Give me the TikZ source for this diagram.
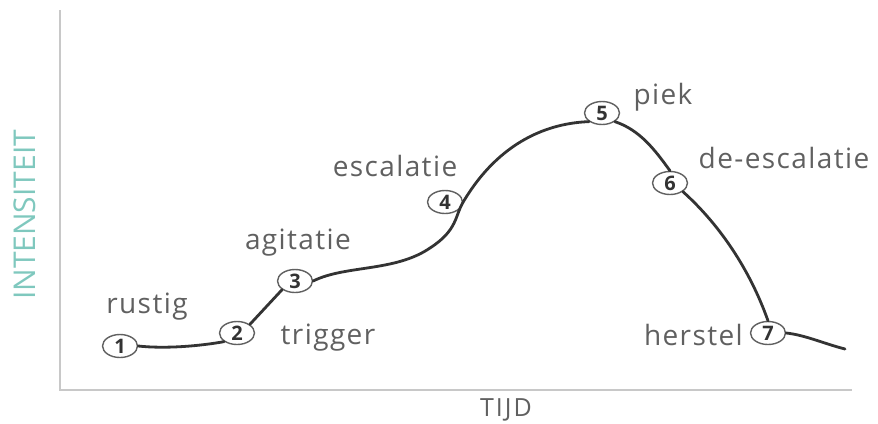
\documentclass[tikz,border=0pt]{standalone}
\usepackage{fontspec}
\setmainfont{Open Sans}
\usetikzlibrary{shapes.geometric}
\definecolor{curvegray}{HTML}{333333}
\definecolor{labelgray}{HTML}{606060}
\definecolor{axisgray}{HTML}{C8C8C8}
\definecolor{tealtext}{HTML}{7FC8BE}

\begin{document}
\begin{tikzpicture}[x=1pt, y=-1pt,
  punt/.style={ellipse, draw=labelgray, line width=1.4pt, fill=white, minimum width=35pt, minimum height=23pt, inner sep=0pt, font=\fontsize{20}{20}\selectfont\bfseries, text=curvegray},
  fase/.style={font=\fontsize{28}{28}\selectfont\addfontfeature{LetterSpace=5}, text=labelgray, inner sep=0pt}]
  \useasboundingbox (0,0) rectangle (878,423);
  % assen
  \draw[axisgray, line width=2.5pt] (60,10) -- (60,390) -- (852,390);
  \node[rotate=90, font=\fontsize{30}{30}\selectfont, text=tealtext, inner sep=0pt] (yas) at (25,215) {INTENSITEIT};
  \node[font=\fontsize{25}{25}\selectfont\addfontfeature{LetterSpace=8}, text=labelgray, inner sep=0pt] (xas) at (506,410) {TIJD};
  % punten
  \node[punt] (n1) at (120,346) {1};
  \node[punt] (n2) at (237,333) {2};
  \node[punt] (n3) at (295,281) {3};
  \node[punt] (n4) at (445,202) {4};
  \node[punt] (n5) at (602,113) {5};
  \node[punt] (n6) at (670,183) {6};
  \node[punt] (n7) at (768,333) {7};
  \coordinate (eind) at (845,349);
  % curve
  \draw[curvegray, line width=2.8pt, line cap=round]
    (n1.east) .. controls (165,349) and (200,346) .. (n2.south west);
  \draw[curvegray, line width=2.8pt, line cap=round] (n2.north east) -- (n3.south west);
  \draw[curvegray, line width=2.8pt, line cap=round]
    (n3.east) .. controls (345,265) and (395,272) .. (430,248)
    .. controls (458,230) and (455,215) .. (n4.east)
    .. controls (500,140) and (550,123) .. (n5.south west);
  \draw[curvegray, line width=2.8pt, line cap=round]
    (n5.south east) .. controls (640,130) and (655,150) .. (n6.north);
  \draw[curvegray, line width=2.8pt, line cap=round]
    (n6.south east) .. controls (720,225) and (750,270) .. (n7.north);
  \draw[curvegray, line width=2.8pt, line cap=round]
    (n7.east) .. controls (805,335) and (825,344) .. (eind);
  % fasen
  \node[fase] (rustig) at (147,307) {rustig};
  \node[fase] (trigger) at (328,338) {trigger};
  \node[fase] (agitatie) at (298,243) {agitatie};
  \node[fase] (escalatie) at (395,166) {escalatie};
  \node[fase] (piek) at (663,97) {piek};
  \node[fase] (deesc) at (784,158) {de-escalatie};
  \node[fase, anchor=east] (herstel) at (743,335) {herstel};
\end{tikzpicture}
\end{document}
